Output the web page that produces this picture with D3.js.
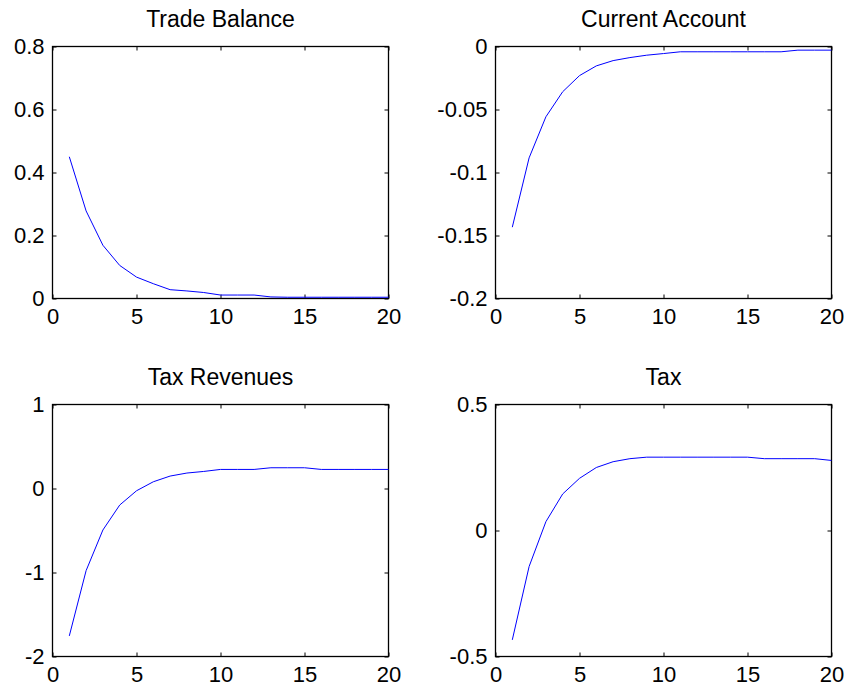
<!DOCTYPE html>
<html>
<head>
  <script type="text/javascript" src="https://d3js.org/d3.v7.min.js"></script>
</head>
<body>
<style type="text/css">
  html,
  body {
    margin: 0px;
    background: #ffffff;
  }

  svg {
    display: block;
  }

  .panel-title,
  .tick-label {
    font-family: "Liberation Sans", Arial, Helvetica, sans-serif;
    fill: #000000;
  }

  .panel-title {
    font-size: 23px;
  }

  .tick-label {
    font-size: 22px;
  }

  .data-line {
    fill: none;
    stroke: #0000ff;
    stroke-width: 1;
  }
</style>

<script>
"use strict";

// Chart data
const PERIODS = [1, 2, 3, 4, 5, 6, 7, 8, 9, 10, 11, 12, 13, 14, 15, 16, 17, 18, 19, 20];
const X_TICKS = [0, 5, 10, 15, 20];

const TRADE_BALANCE = [0.45, 0.278, 0.169, 0.105, 0.068, 0.047, 0.028, 0.024, 0.019, 0.011,
  0.011, 0.011, 0.005, 0.004, 0.004, 0.004, 0.004, 0.004, 0.004, 0.004];
const CURRENT_ACCOUNT = [-0.1434, -0.0884, -0.0558, -0.0359, -0.0231, -0.0154, -0.0112, -0.0088, -0.0069, -0.0056,
  -0.0042, -0.0042, -0.0042, -0.0042, -0.0042, -0.0042, -0.0042, -0.0029, -0.0029, -0.0029];
const TAX_REVENUES = [-1.755, -0.978, -0.494, -0.197, -0.027, 0.08, 0.148, 0.184, 0.203, 0.227,
  0.227, 0.227, 0.247, 0.247, 0.247, 0.227, 0.227, 0.227, 0.227, 0.227];
const TAX = [-0.434, -0.143, 0.035, 0.145, 0.207, 0.25, 0.273, 0.285, 0.291, 0.291,
  0.291, 0.291, 0.291, 0.291, 0.291, 0.285, 0.285, 0.285, 0.285, 0.278];

const TITLES = ["Trade Balance", "Current Account", "Tax Revenues", "Tax"];
const SERIES = [TRADE_BALANCE, CURRENT_ACCOUNT, TAX_REVENUES, TAX];
const Y_DOMAINS = [[0, 0.8], [-0.2, 0], [-2, 1], [-0.5, 0.5]];
const Y_TICKS = [
  [0, 0.2, 0.4, 0.6, 0.8],
  [-0.2, -0.15, -0.1, -0.05, 0],
  [-2, -1, 0, 1],
  [-0.5, 0, 0.5]
];

// Layout
const WIDTH = 851;
const HEIGHT = 692;
const COLS = [52.5, 495.5]; // left edge of each column
const ROWS = [46.5, 404.5]; // top edge of each row
const PLOT_W = 336;
const PLOT_H = 252;
const TICK_LEN = 4;

const SVG = d3.select("body")
  .append("svg")
  .attr("width", WIDTH)
  .attr("height", HEIGHT);

SERIES.forEach(function(values, i) {
  const left = COLS[i % 2];
  const top = ROWS[Math.floor(i / 2)];

  const X_SCALE = d3.scaleLinear().domain([0, 20]).range([0, PLOT_W]);
  const Y_SCALE = d3.scaleLinear().domain(Y_DOMAINS[i]).range([PLOT_H, 0]);

  const g = SVG.append("g")
    .attr("transform", "translate(" + left + "," + top + ")");

  // Title
  g.append("text")
    .classed("panel-title", true)
    .attr("x", PLOT_W / 2)
    .attr("y", -20)
    .attr("text-anchor", "middle")
    .text(TITLES[i]);

  // Bottom axis (labels + inward ticks)
  const xAxis = g.append("g")
    .attr("transform", "translate(0," + PLOT_H + ")")
    .call(d3.axisBottom(X_SCALE).tickValues(X_TICKS).tickSize(-TICK_LEN).tickPadding(10).tickFormat(d3.format("d")));

  // Left axis (labels + inward ticks)
  const yAxis = g.append("g")
    .call(d3.axisLeft(Y_SCALE).tickValues(Y_TICKS[i]).tickSize(-TICK_LEN).tickPadding(8).tickFormat(function(d) {
      return String(+d.toFixed(4));
    }));

  // Top and right axes, ticks only
  g.append("g")
    .call(d3.axisTop(X_SCALE).tickValues(X_TICKS).tickSize(-TICK_LEN).tickFormat(""));
  g.append("g")
    .attr("transform", "translate(" + PLOT_W + ",0)")
    .call(d3.axisRight(Y_SCALE).tickValues(Y_TICKS[i]).tickSize(-TICK_LEN).tickFormat(""));

  g.selectAll(".domain").remove();
  g.selectAll(".tick line").attr("stroke", "#000000");
  xAxis.selectAll("text").classed("tick-label", true).attr("dy", "0.71em");
  yAxis.selectAll("text").classed("tick-label", true);

  // Box
  g.append("rect")
    .attr("x", 0)
    .attr("y", 0)
    .attr("width", PLOT_W)
    .attr("height", PLOT_H)
    .attr("fill", "none")
    .attr("stroke", "#000000")
    .attr("stroke-width", 1.3);

  // Line
  g.append("path")
    .datum(values)
    .classed("data-line", true)
    .attr("d", d3.line()
      .x(function(d, j) { return X_SCALE(PERIODS[j]); })
      .y(function(d) { return Y_SCALE(d); }));
});
</script>
</body>
</html>
